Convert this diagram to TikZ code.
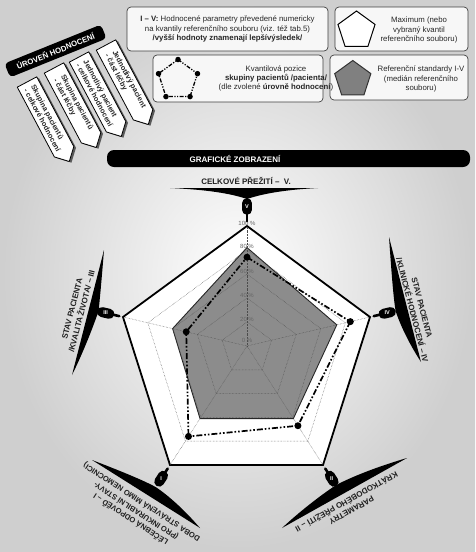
\documentclass[tikz,border=0pt]{standalone}
\usepackage{fontspec}
\setmainfont{Liberation Sans}
\usetikzlibrary{calc}
\begin{document}
\begin{tikzpicture}[x=1pt,y=-1pt,
  lbox/.style={draw=black!75, line width=0.7pt, rounded corners=4pt, fill=black!3},
  ltext/.style={font=\fontsize{7.8}{9.2}\selectfont, align=center, text=black!85, inner sep=0pt},
  gridl/.style={densely dotted, line width=0.45pt, draw=black!70},
  series/.style={line width=1.7pt, dash pattern=on 6pt off 2pt on 1.6pt off 2pt on 1.6pt off 2pt},
  dot/.style={circle, fill=black, inner sep=0pt, minimum size=7pt},
  axlab/.style={font=\bfseries\fontsize{8}{10}\selectfont, align=center, text=black!88, inner sep=0pt},
  tagtext/.style={font=\bfseries\fontsize{7.3}{8.3}\selectfont, align=left, text=black!85, inner sep=0pt},
  pct/.style={font=\fontsize{6}{6.5}\selectfont, text=black!60, inner sep=0pt},
  numer/.style={font=\bfseries\fontsize{5.5}{6}\selectfont, text=white, inner sep=0pt},
]
\useasboundingbox (0,0) rectangle (475,552);
\shade[inner color=white, outer color=black!19] (0,0) rectangle (475,552);

% ---------- radar chart ----------
\coordinate (C) at (247,346);
\coordinate (aV) at (247,226);
\coordinate (aIV) at (370,317);
\coordinate (aII) at (323,465);
\coordinate (aI) at (170,465);
\coordinate (aIII) at (123,317);

\draw[line width=1.8pt, fill=white] (aV) -- (aIV) -- (aII) -- (aI) -- (aIII) -- cycle;
\draw[fill=black!45, draw=black!85, line width=0.9pt]
  ($(C)!0.82!(aV)$) -- ($(C)!0.73!(aIV)$) -- ($(C)!0.61!(aII)$) -- ($(C)!0.61!(aI)$) -- ($(C)!0.60!(aIII)$) -- cycle;
\foreach \fr in {0.2,0.4,0.6,0.8}
  \draw[gridl] ($(C)!\fr!(aV)$) -- ($(C)!\fr!(aIV)$) -- ($(C)!\fr!(aII)$) -- ($(C)!\fr!(aI)$) -- ($(C)!\fr!(aIII)$) -- cycle;
\foreach \ax in {aV,aIV,aII,aI,aIII}
  \draw[gridl] (C) -- (\ax);

\coordinate (q5) at ($(C)!0.74!(aV)$);
\coordinate (q4) at ($(C)!0.84!(aIV)$);
\coordinate (q2) at ($(C)!0.67!(aII)$);
\coordinate (q1) at ($(C)!0.76!(aI)$);
\coordinate (q3) at ($(C)!0.49!(aIII)$);
\draw[series] (q5) -- (q4) -- (q2) -- (q1) -- (q3) -- cycle;
\foreach \i in {1,...,5} \node[dot] (d\i) at (q\i) {};

\node[pct] (p100) at ($(C)!1!(aV)+(0,-3)$) {100 \%};
\node[pct] (p80) at ($(C)!0.8!(aV)+(0,-4)$) {80 \%};
\node[pct] (p60) at ($(C)!0.6!(aV)+(0,-3)$) {60 \%};
\node[pct] (p40) at ($(C)!0.4!(aV)+(0,-2.5)$) {40 \%};
\node[pct] (p20) at ($(C)!0.2!(aV)+(0,-3)$) {20 \%};
\node[pct] (p0) at ($(C)+(0,-6)$) {0 \%};

% ---------- blades ----------
\fill (170,188) .. controls (215,190) and (235,195) .. (247,199) .. controls (259,195) and (279,190) .. (318,188) -- cycle;
\fill (389,237) .. controls (391,265) and (393,295) .. (395.6,311) .. controls (402,330) and (412,348) .. (421,362) -- cycle;
\fill (104,250) .. controls (102,275) and (100,298) .. (98.5,311.3) .. controls (92,330) and (82,355) .. (72,375) -- cycle;
\fill (92,460) .. controls (118,470) and (143,480) .. (155.8,487.1) .. controls (172,498) and (188,514) .. (200,528) -- cycle;
\fill (282,528) .. controls (297,514) and (318,497) .. (335.9,485.2) .. controls (355,475) and (383,465) .. (407,458) -- cycle;

% ---------- icons ----------
\foreach \ax/\fa/\fb/\fc/\nm in {aV/1.19/1.135/1.04/V, aIV/1.17/1.11/1.03/IV, aIII/1.17/1.11/1.03/III, aI/1.14/1.09/1.03/I, aII/1.14/1.09/1.03/II} {
  \draw[line width=2.6pt, line cap=round] ($(C)!\fb!(\ax)$) -- ($(C)!\fc!(\ax)$);
  \draw[line width=10pt, line cap=round] ($(C)!\fa!(\ax)$) -- ($(C)!\fb!(\ax)$);
  \node[numer] (n\nm) at ($(C)!{(\fa+\fb)/2}!(\ax)$) {\nm};
}

% ---------- axis labels ----------
\node[axlab] (lV) at (246,181) {CELKOVÉ PŘEŽITÍ –\ \ V.};
\node[axlab, rotate=-75.5] (lIV) at (417,309) {STAV PACIENTA\\/KLINICKÉ HODNOCENÍ – IV};
\node[axlab, rotate=75.5] (lIII) at (77,310) {STAV PACIENTA\\/KVALITA ŽIVOTA/ – III};
\begin{scope}[axlab, font=\bfseries\fontsize{7.6}{9}\selectfont]
  \node[rotate=147] (lIa) at (130.4,519.9) {LÉČEBNÁ ODPOVĚĎ – I};
  \node[rotate=147] (lIb) at (136,511) {(PRO INKURABILNÍ STAVY-};
  \node[rotate=147] (lIc) at (141.6,502.1) {DOBA STRÁVENÁ MIMO NEMOCNICI)};
\end{scope}
\node[axlab, rotate=-151] (lII) at (349,506) {PARAMETRY\\KRÁTKODOBÉHO PŘEŽITÍ – II};

% ---------- title bar ----------
\fill[rounded corners=7pt] (107,150) rectangle (470,167);
\node[font=\bfseries\fontsize{8}{9}\selectfont, text=white] (gz) at (235,158.5) {GRAFICKÉ ZOBRAZENÍ};

% ---------- legend ----------
\draw[lbox] (127,7) rectangle (328,51);
\draw[lbox] (153,55) rectangle (323,102);
\draw[lbox] (335,7) rectangle (468,51);
\draw[lbox] (330,55) rectangle (468,100);

\node[ltext] (t1) at (227.5,29) {\textbf{I – V:} Hodnocené parametry převedené numericky\\na kvantily referenčního souboru (viz. též tab.5)\\\textbf{/vyšší hodnoty znamenají lepšívýsledek/}};
\node[ltext] (t2) at (276,78.5) {Kvantilová pozice\\\textbf{skupiny pacientů /pacienta/}\\(dle zvolené \textbf{úrovně hodnocení})};
\node[ltext] (t3) at (419,30) {Maximum (nebo\\vybraný kvantil\\referenčního souboru)};
\node[ltext] (t4) at (421,79) {Referenční standardy I-V\\(medián referenčního\\souboru)};

\begin{scope}[shift={(178,80)}]
  \foreach \i/\ang in {1/-90,2/-18,3/54,4/126,5/198} \coordinate (k\i) at (\ang:20.5);
  \draw[line width=1.3pt, dash pattern=on 4pt off 1.5pt on 1.2pt off 1.5pt on 1.2pt off 1.5pt] (k1) -- (k2) -- (k3) -- (k4) -- (k5) -- cycle;
  \foreach \i in {1,...,5} \node[dot, minimum size=5.5pt] (kd\i) at (k\i) {};
\end{scope}
\begin{scope}[shift={(356.5,30.5)}]
  \draw[fill=white, line width=1pt] (-90:19.5) -- (-18:19.5) -- (54:19.5) -- (126:19.5) -- (198:19.5) -- cycle;
\end{scope}
\begin{scope}[shift={(352.8,79.5)}]
  \draw[fill=black!50, draw=black!80, line width=1pt] (-90:19) -- (-18:19) -- (54:19) -- (126:19) -- (198:19) -- cycle;
\end{scope}

% ---------- level selector ----------
\node[fill=black, text=white, rounded corners=4pt, minimum width=104pt, minimum height=15pt, rotate=22,
  inner sep=1pt, font=\bfseries\fontsize{7.8}{8}\selectfont] (uroven) at (55.5,51) {ÚROVEŇ HODNOCENÍ};
\foreach \nm/\tx/\ty/\la/\lb in {1/27/82/Skupina pacientů/- celkové hodnocení,
                                 2/54/68/Skupina pacientů/- část léčby,
                                 3/79/57/Jednotlivý pacient/- celkové hodnocení,
                                 4/106/45/Jednotlivý pacient/- část léčby} {
  \begin{scope}[shift={(\tx+2.2,\ty+1.2)}, rotate=-62]
    \fill[black!65] (0,-11) -- (79,-11) -- (90,0) -- (79,11) -- (0,11) -- cycle;
  \end{scope}
  \begin{scope}[shift={(\tx,\ty)}, rotate=-62]
    \draw[fill=white, line width=0.8pt, line join=round] (0,-11) -- (79,-11) -- (90,0) -- (79,11) -- (0,11) -- cycle;
    \node[tagtext, rotate=-62] (tg\nm) at (41,0) {\la\\\lb};
  \end{scope}
}
\end{tikzpicture}
\end{document}
